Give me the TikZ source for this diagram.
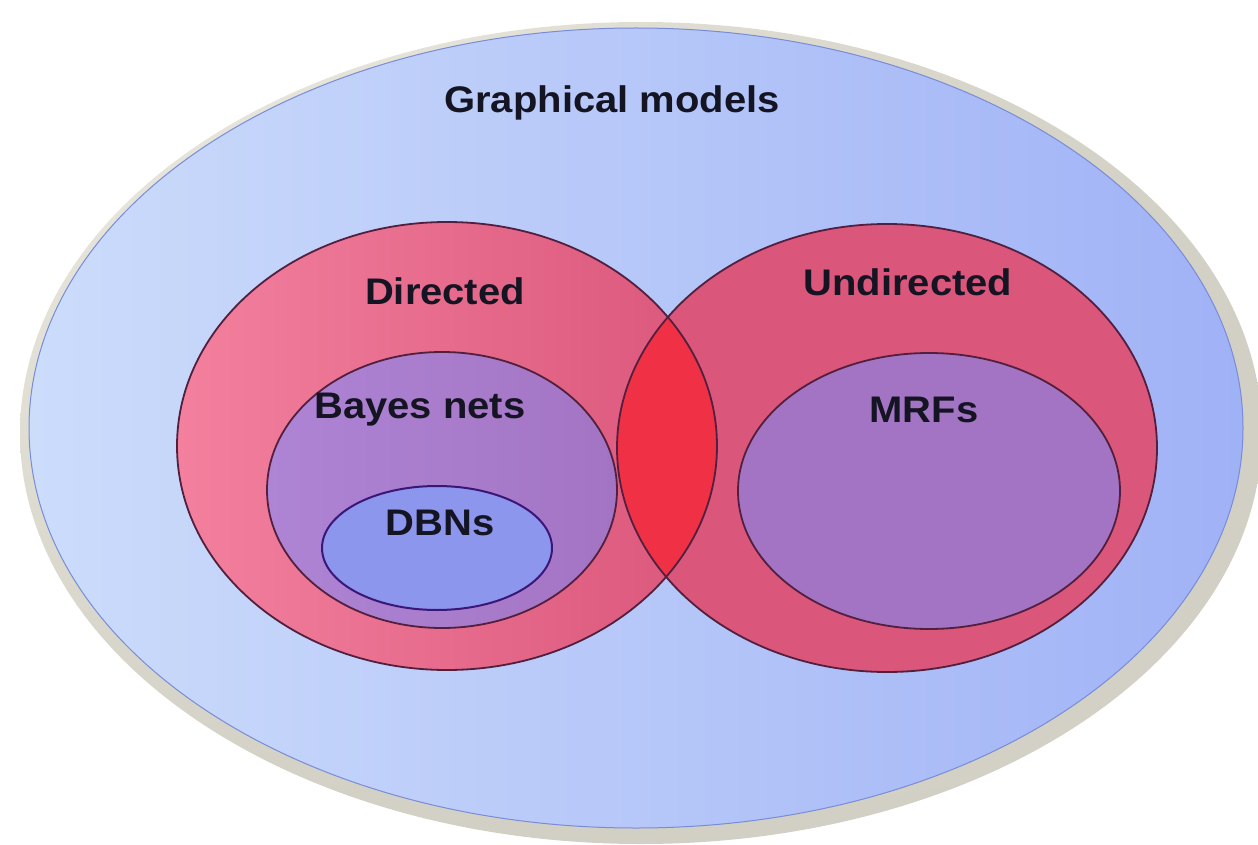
\documentclass[tikz,border=0pt]{standalone}
\usepackage{fontspec}
\setmainfont{Liberation Sans}
\usetikzlibrary{positioning,shadings}

\definecolor{rimgray}{RGB}{210,207,196}
\definecolor{rimlight}{RGB}{238,236,226}
\definecolor{bluelight}{RGB}{204,220,251}
\definecolor{bluedark}{RGB}{160,178,246}
\definecolor{bluerim}{RGB}{120,140,215}
\definecolor{pinklight}{RGB}{243,128,158}
\definecolor{pinkdark}{RGB}{218,86,122}
\definecolor{lensred}{RGB}{240,48,68}
\definecolor{violet}{RGB}{174,132,212}
\definecolor{violetdark}{RGB}{164,116,196}
\definecolor{dbnblue}{RGB}{140,150,236}
\definecolor{rim}{RGB}{82,32,62}
\definecolor{labeltext}{RGB}{20,20,35}

\begin{document}
\begin{tikzpicture}[
            x=1pt, y=-1pt,
            region/.style={draw=rim, line width=1.8pt},
            setlabel/.style={font=\fontsize{37}{40}\selectfont\bfseries, text=labeltext, xscale=1.08, inner sep=0pt}
        ]
            \useasboundingbox (0,0) rectangle (1258,845);

            \coordinate (gm) at (636,428);
            \coordinate (dir) at (447,446);
            \coordinate (und) at (887,448);
            \coordinate (bn) at (442,490);
            \coordinate (mrf) at (929,491);
            \coordinate (dbn) at (437,548);

            % outer frame
            \shade[upper left=rimlight, upper right=rimgray, lower left=rimgray, lower right=rimgray]
                (641,433) ellipse [x radius=621, y radius=411];
            \shade[left color=bluelight, right color=bluedark, draw=bluerim, line width=1pt]
                (gm) ellipse [x radius=607, y radius=400];

            % directed / undirected
            \shade[left color=pinklight, right color=pinkdark] (dir) ellipse [x radius=270, y radius=224];
            \fill[pinkdark] (und) ellipse [x radius=270, y radius=224];
            \begin{scope}
                \clip (dir) ellipse [x radius=270, y radius=224];
                \fill[lensred] (und) ellipse [x radius=270, y radius=224];
            \end{scope}
            \draw[region] (dir) ellipse [x radius=270, y radius=224];
            \draw[region] (und) ellipse [x radius=270, y radius=224];

            % subclasses
            \shade[region, left color=violet, right color=violetdark] (bn) ellipse [x radius=175, y radius=138];
            \fill[violetdark, region] (mrf) ellipse [x radius=191, y radius=138];
            \fill[dbnblue, draw=rim!70!blue, line width=2pt] (dbn) ellipse [x radius=115, y radius=62];

            \node[setlabel] (gmlabel) at (612,103) {Graphical models};
            \node[setlabel] (dirlabel) at (445,291) {Directed};
            \node[setlabel] (undlabel) at (908,282) {Undirected};
            \node[setlabel] (bnlabel) at (420,410) {Bayes nets};
            \node[setlabel] (mrflabel) at (924,410) {MRFs};
            \node[setlabel] (dbnlabel) at (440,523) {DBNs};
        \end{tikzpicture}
\end{document}
